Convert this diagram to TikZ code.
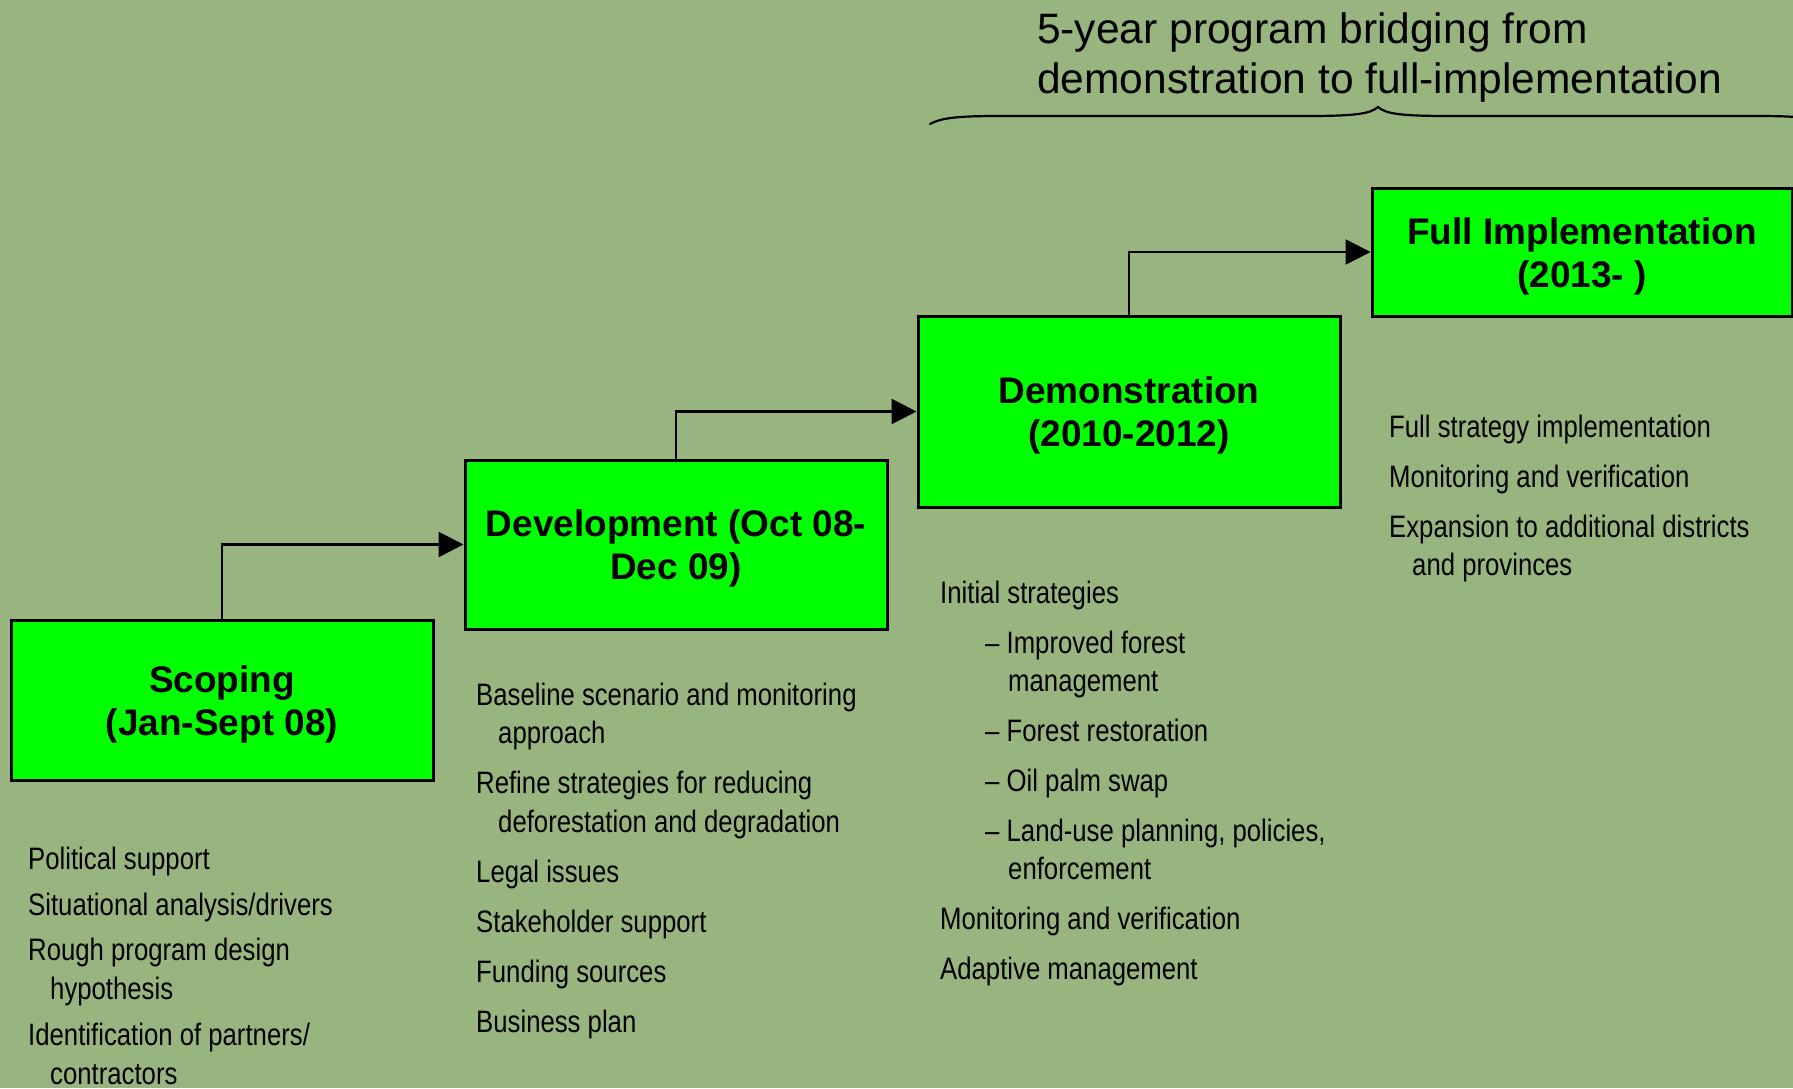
\documentclass[tikz,border=0pt]{standalone}
\usepackage{fontspec}
\setmainfont{Liberation Sans}
\newfontfamily\narrowfont{Liberation Sans}[FakeStretch=0.83]
\usetikzlibrary{arrows.meta}
\definecolor{bg}{RGB}{153,181,127}
\definecolor{boxgreen}{RGB}{0,255,0}
\newcommand{\toplift}{\rule{0pt}{35pt}}
\tikzset{
  stage/.style={draw=black, line width=3pt, fill=boxgreen, inner sep=0pt, align=center,
    font=\bfseries\fontsize{37}{43}\selectfont, minimum width=422pt},
  flow/.style={line width=2.5pt, -{Triangle[length=25pt,width=25pt]}},
  listitem/.style={anchor=base west, inner sep=0pt, font=\narrowfont\fontsize{31}{37}\selectfont},
  heading/.style={anchor=base west, inner sep=0pt, font=\fontsize{42.5}{50}\selectfont},
  bracestyle/.style={line width=2.2pt, line cap=round},
}
\begin{document}
\begin{tikzpicture}[x=1pt,y=-1pt]
\fill[bg] (0,0) rectangle (1793,1088);
\useasboundingbox (0,0) rectangle (1793,1088);

% heading and brace
\node[heading] (h1) at (1037,43) {5-year program bridging from};
\node[heading] (h2) at (1037,93) {demonstration to full-implementation};
\begin{scope}
\clip (0,0) rectangle (1793,1088);
\draw[bracestyle] (930,124) .. controls (946,115) and (975,116) .. (1040,116)
  -- (1305,116) .. controls (1355,116) and (1370,114) .. (1378,107)
  .. controls (1386,114) and (1401,116) .. (1451,116)
  -- (1716,116) .. controls (1781,116) and (1810,115) .. (1826,124);
\end{scope}

% stages
\node[stage, minimum height=160pt] (scoping) at (222,700) {\toplift Scoping\\(Jan-Sept 08)};
\node[stage, minimum height=169pt] (dev) at (676,544.5) {\toplift Development (Oct 08-\\Dec 09)};
\node[stage, minimum height=191pt] (demo) at (1129,411.5) {\toplift Demonstration\\(2010-2012)};
\node[stage, minimum height=128pt, minimum width=420pt] (full) at (1582,252) {\toplift Full Implementation\\(2013- )};

% connectors
\draw[flow] (scoping.north) |- (dev.west);
\draw[flow] (dev.north) |- (demo.west);
\draw[flow] (demo.north) |- (full.west);

% scoping list
\node[listitem] (s1) at (28,869) {Political support};
\node[listitem] (s2) at (28,915) {Situational analysis/drivers};
\node[listitem] (s3a) at (28,960) {Rough program design};
\node[listitem] (s3b) at (50,999) {hypothesis};
\node[listitem] (s4a) at (28,1045) {Identification of partners/};
\node[listitem] (s4b) at (50,1084) {contractors};

% development list
\node[listitem] (d1a) at (476,705) {Baseline scenario and monitoring};
\node[listitem] (d1b) at (498,743) {approach};
\node[listitem] (d2a) at (476,793) {Refine strategies for reducing};
\node[listitem] (d2b) at (498,832) {deforestation and degradation};
\node[listitem] (d3) at (476,882) {Legal issues};
\node[listitem] (d4) at (476,932) {Stakeholder support};
\node[listitem] (d5) at (476,982) {Funding sources};
\node[listitem] (d6) at (476,1032) {Business plan};

% demonstration list
\node[listitem] (m1) at (940,603) {Initial strategies};
\node[listitem] (m2a) at (985,653) {– Improved forest};
\node[listitem] (m2b) at (1008,691) {management};
\node[listitem] (m3) at (985,741) {– Forest restoration};
\node[listitem] (m4) at (985,791) {– Oil palm swap};
\node[listitem] (m5a) at (985,841) {– Land-use planning, policies,};
\node[listitem] (m5b) at (1008,879) {enforcement};
\node[listitem] (m6) at (940,929) {Monitoring and verification};
\node[listitem] (m7) at (940,979) {Adaptive management};

% full implementation list
\node[listitem] (f1) at (1389,437) {Full strategy implementation};
\node[listitem] (f2) at (1389,487) {Monitoring and verification};
\node[listitem] (f3a) at (1389,537) {Expansion to additional districts};
\node[listitem] (f3b) at (1412,575) {and provinces};
\end{tikzpicture}
\end{document}
